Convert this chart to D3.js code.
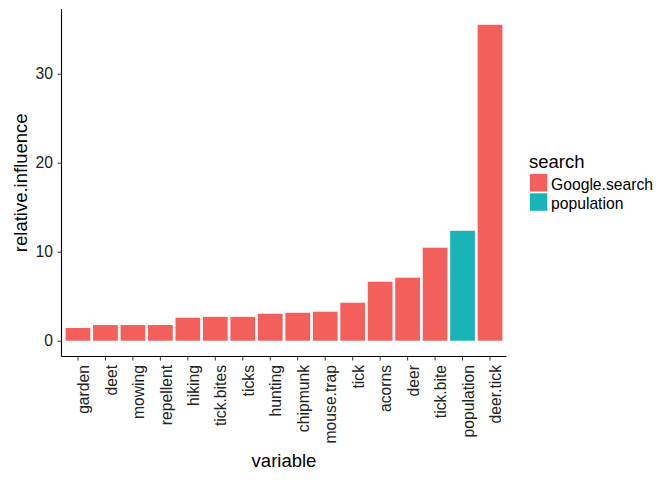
<html lang="en">
<head>
  <script src="https://d3js.org/d3.v7.min.js"></script>
  <style>
    body { margin: 0; background: white; }
    text { font-family: "Liberation Sans", Arial, sans-serif; }
  </style>
</head>
<body>
  <svg id="chart" width="672" height="480"></svg>
  <script>
    const variables = ["garden", "deet", "mowing", "repellent", "hiking", "tick.bites", "ticks", "hunting",
                       "chipmunk", "mouse.trap", "tick", "acorns", "deer", "tick.bite", "population", "deer.tick"];
    const influence = [1.43, 1.76, 1.76, 1.76, 2.58, 2.68, 2.68, 3.03, 3.14, 3.26, 4.27, 6.63, 7.08, 10.45, 12.35, 35.5];
    const searchGroup = ["Google.search", "Google.search", "Google.search", "Google.search", "Google.search",
                         "Google.search", "Google.search", "Google.search", "Google.search", "Google.search",
                         "Google.search", "Google.search", "Google.search", "Google.search", "population", "Google.search"];
    const groups = ["Google.search", "population"];
    const yTicks = [0, 10, 20, 30];

    const data = variables.map((v, i) => ({ variable: v, value: influence[i], search: searchGroup[i] }));

    const svg = d3.select("#chart");
    const plotLeft = 61.5, plotRight = 506.5, plotTop = 9, plotBottom = 356.5;
    const tickFont = 15.7, titleFont = 18.5;

    const x = d3.scaleBand().domain(variables).range([plotLeft, plotRight])
                .paddingInner(0.1).paddingOuter(0.15);
    const ymax = d3.max(influence);
    const y = d3.scaleLinear().domain([-ymax * 0.05, ymax * 1.05]).range([plotBottom, plotTop]);
    const color = d3.scaleOrdinal().domain(groups).range(["#F35F5A", "#18B4B8"]);

    svg.append("g").selectAll("rect")
      .data(data)
      .enter()
      .append("rect")
      .attr("x", d => x(d.variable))
      .attr("width", x.bandwidth())
      .attr("y", d => y(d.value))
      .attr("height", d => y(0) - y(d.value))
      .attr("fill", d => color(d.search));

    const yAxis = svg.append("g")
      .attr("transform", "translate(" + plotLeft + ",0)")
      .call(d3.axisLeft(y).tickValues(yTicks).tickSize(4).tickPadding(4.5));
    yAxis.select(".domain").attr("d", "M0," + plotTop + "V" + plotBottom).attr("stroke", "#000").attr("stroke-width", 1.1);
    yAxis.selectAll(".tick line").attr("stroke", "#333");
    yAxis.selectAll(".tick text").attr("font-size", tickFont).attr("fill", "#222")
      .attr("font-family", "Liberation Sans, Arial, sans-serif");

    const xAxis = svg.append("g")
      .attr("transform", "translate(0," + plotBottom + ")")
      .call(d3.axisBottom(x).tickSize(4).tickSizeOuter(0));
    xAxis.select(".domain").attr("d", "M" + plotLeft + ",0H" + plotRight).attr("stroke", "#000").attr("stroke-width", 1.1);
    xAxis.selectAll(".tick line").attr("stroke", "#333");
    xAxis.selectAll(".tick text")
      .attr("font-size", tickFont).attr("fill", "#222").attr("font-family", "Liberation Sans, Arial, sans-serif")
      .attr("transform", "rotate(-90)")
      .attr("text-anchor", "end")
      .attr("x", -8.5).attr("y", 0).attr("dy", "0.71em");

    svg.append("text")
      .attr("transform", "translate(27," + ((plotTop + plotBottom) / 2) + ") rotate(-90)")
      .attr("text-anchor", "middle")
      .attr("font-size", titleFont)
      .text("relative.influence");

    svg.append("text")
      .attr("x", (plotLeft + plotRight) / 2).attr("y", 467)
      .attr("text-anchor", "middle")
      .attr("font-size", titleFont)
      .text("variable");

    const legend = svg.append("g").attr("transform", "translate(529,0)");
    legend.append("text").attr("x", 0).attr("y", 168).attr("font-size", titleFont).text("search");
    groups.forEach((g, i) => {
      legend.append("rect").attr("x", 1).attr("y", 174 + i * 19.3).attr("width", 17.3).attr("height", 17.5).attr("fill", color(g));
      legend.append("text").attr("x", 22).attr("y", 189.5 + i * 19.2).attr("font-size", tickFont).text(g);
    });
  </script>
</body>
</html>
